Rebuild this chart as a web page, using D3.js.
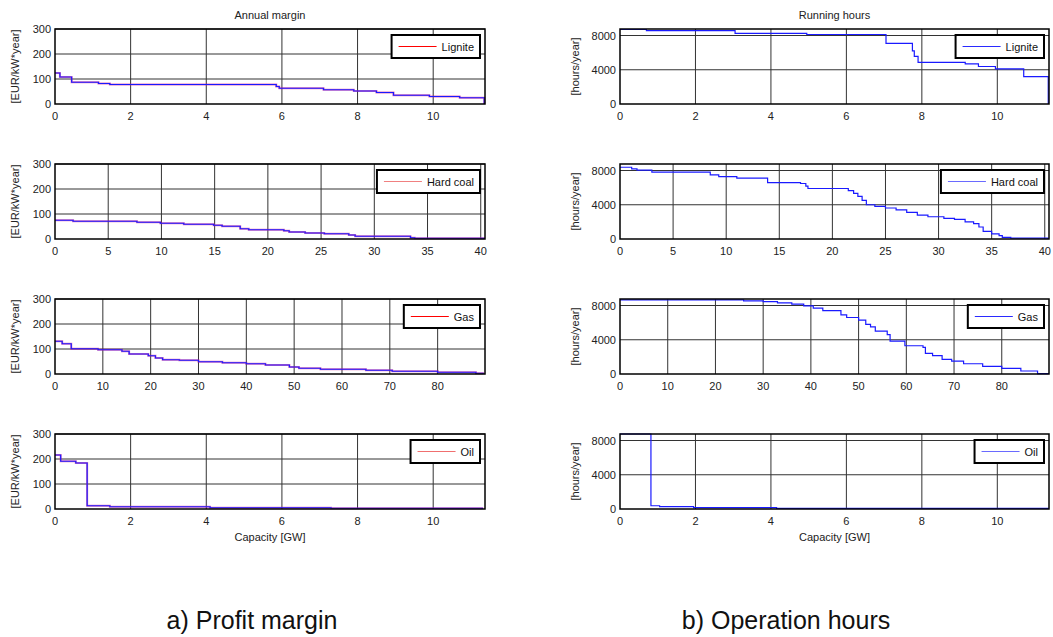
<!DOCTYPE html>
<html>
<head>
<meta charset="utf-8">
<script src="https://cdn.jsdelivr.net/npm/d3@7"></script>
<style>
  body { margin: 0; background: #fff; }
  svg { font-family: "Liberation Sans", Arial, sans-serif; }
</style>
</head>
<body>
<svg id="chart" width="1053" height="637"></svg>
<script>
// step curves: capacity where each step starts, and its value (last point = drop at the end)
const ligniteMarginCap = [0, 0.13, 0.44, 1.15, 1.45, 5.85, 5.93, 7.1, 7.9, 8.5, 8.95, 9.9, 10.7, 11.35]
const ligniteMarginVal = [124, 108, 87, 82, 78, 70, 63, 57, 52, 46, 35, 30, 25, 0]

const hardcoalMarginCap = [0, 1.7, 7.7, 9.9, 12.1, 14.9, 15.7, 17.4, 18.2, 21.5, 22, 23.5, 25.3, 27.6, 28.2, 33.4, 33.8, 40.3]
const hardcoalMarginVal = [75, 71, 67, 63, 59, 55, 51, 41, 37, 33, 28, 24, 21, 16, 11, 5, 3, 0]

const gasMarginCap = [0, 1.5, 3.4, 9, 14, 15.5, 19.5, 21, 22.5, 26, 30, 35, 40, 44, 49, 51, 55.5, 65, 70.5, 80, 88, 89.5]
const gasMarginVal = [131, 121, 101, 97, 91, 80, 73, 64, 57, 55, 49, 45, 41, 36, 28, 23, 19, 15, 11, 7, 3, 0]

const oilMarginCap = [0, 0.15, 0.55, 0.85, 1.45, 4.1, 7.3, 11.3]
const oilMarginVal = [216, 191, 184, 13, 9, 5, 3, 0]

const ligniteHoursCap = [0, 0.7, 3.05, 4.95, 7.05, 7.75, 7.8, 7.9, 9.15, 9.5, 9.95, 10.7, 11.35]
const ligniteHoursVal = [8700, 8580, 8250, 8120, 7090, 6210, 5560, 4870, 4690, 4380, 4110, 3200, 0]

const hardcoalHoursCap = [0, 1.1, 1.6, 3.0, 8.5, 9.3, 11.0, 13.9, 17.0, 17.5, 17.7, 21.5, 22.0, 22.4, 22.8, 23.2, 24.0, 25.0, 26.0, 27.0, 28.0, 29.0, 30.5, 31.5, 32.5, 33.3, 33.8, 34.2, 35.0, 35.7, 36.0, 36.8, 40.3]
const hardcoalHoursVal = [8380, 8190, 8040, 7810, 7500, 7280, 7120, 6590, 6480, 6170, 5900, 5640, 5330, 4990, 4500, 4000, 3810, 3620, 3400, 3100, 2800, 2600, 2420, 2300, 2000, 1800, 1400, 900, 600, 400, 200, 100, 0]

const gasHoursCap = [0, 25.9, 30, 33, 36, 38.5, 40.5, 42.5, 46.3, 47.5, 50, 51.5, 52.5, 53.5, 56, 56.6, 59.7, 63.5, 64, 65.5, 67.5, 69.5, 72, 76, 80, 84, 87.5, 89.8]
const gasHoursVal = [8650, 8550, 8450, 8300, 8150, 7950, 7700, 7400, 6900, 6600, 6300, 5800, 5500, 5000, 4600, 3850, 3300, 3100, 2400, 2150, 1700, 1500, 1200, 900, 650, 350, 50, 0]

const oilHoursCap = [0, 0.82, 1.05, 1.95, 4.15, 11.35]
const oilHoursVal = [8760, 380, 270, 150, 80, 0]

const fuels = ['Lignite', 'Hard coal', 'Gas', 'Oil']
const capMax = [11.37, 40.4, 89.9, 11.37]
const capStep = [2, 5, 10, 2]
const marginTicks = [0, 100, 200, 300]
const hoursTicks = [0, 4000, 8000]

const marginCap = [ligniteMarginCap, hardcoalMarginCap, gasMarginCap, oilMarginCap]
const marginVal = [ligniteMarginVal, hardcoalMarginVal, gasMarginVal, oilMarginVal]
const hoursCap = [ligniteHoursCap, hardcoalHoursCap, gasHoursCap, oilHoursCap]
const hoursVal = [ligniteHoursVal, hardcoalHoursVal, gasHoursVal, oilHoursVal]

const svg = d3.select('#chart')
const rowTop = [29, 164, 299, 434]
const plotH = 75
const cols = [
  { x0: 55, x1: 485, yMax: 300, ticks: marginTicks, label: '[EUR/kW*year]', labelX: 15,
    caps: marginCap, vals: marginVal, title: 'Annual margin', caption: 'a) Profit margin', captionX: 252,
    legendColor: ['#ff0000', '#f08080', '#ff0000', '#f06f6f'] },
  { x0: 620, x1: 1049, yMax: 8760, ticks: hoursTicks, label: '[hours/year]', labelX: 575,
    caps: hoursCap, vals: hoursVal, title: 'Running hours', caption: 'b) Operation hours', captionX: 786,
    legendColor: ['#2a2aff', '#6a6aff', '#2a2aff', '#6a6aff'] }
]

cols.forEach((col, c) => {
  fuels.forEach((fuel, r) => {
    const top = rowTop[r]
    const bottom = top + plotH
    const x = d3.scaleLinear().domain([0, capMax[r]]).range([col.x0, col.x1])
    const y = d3.scaleLinear().domain([0, col.yMax]).range([bottom, top])
    const xticks = d3.range(0, capMax[r] + 1e-9, capStep[r])

    const g = svg.append('g')

    // grid
    g.selectAll('.gx').data(xticks.slice(1)).join('line')
      .attr('x1', d => x(d)).attr('x2', d => x(d))
      .attr('y1', top).attr('y2', bottom)
      .attr('stroke', '#333').attr('stroke-width', 1)
    g.selectAll('.gy').data(col.ticks.slice(1)).join('line')
      .attr('x1', col.x0).attr('x2', col.x1)
      .attr('y1', d => y(d)).attr('y2', d => y(d))
      .attr('stroke', '#333').attr('stroke-width', 1)

    // data
    const pts = col.caps[r].map((cap, i) => [cap, col.vals[r][i]])
    const line = d3.line().x(d => x(d[0])).y(d => y(d[1])).curve(d3.curveStepAfter)
    if (c === 0) {
      g.append('path').attr('d', line(pts)).attr('fill', 'none')
        .attr('stroke', '#d21a8c').attr('stroke-width', 2).attr('opacity', 0.6)
      g.append('path').attr('d', line(pts)).attr('fill', 'none')
        .attr('stroke', '#1a1aff').attr('stroke-width', 1.2)
    } else {
      g.append('path').attr('d', line(pts)).attr('fill', 'none')
        .attr('stroke', '#1a1aff').attr('stroke-width', 1.2)
    }

    // frame
    g.append('rect').attr('x', col.x0).attr('y', top)
      .attr('width', col.x1 - col.x0).attr('height', plotH)
      .attr('fill', 'none').attr('stroke', '#000').attr('stroke-width', 1.5)

    // ticks
    g.selectAll('.tx').data(xticks).join('text')
      .attr('x', d => x(d)).attr('y', bottom + 16)
      .attr('text-anchor', 'middle').attr('font-size', 11).attr('fill', '#222')
      .text(d => d)
    g.selectAll('.ty').data(col.ticks).join('text')
      .attr('x', col.x0 - 4).attr('y', d => y(d) + 4)
      .attr('text-anchor', 'end').attr('font-size', 11).attr('fill', '#222')
      .text(d => d)

    g.append('text')
      .attr('transform', `translate(${col.labelX},${(top + bottom) / 2}) rotate(-90)`)
      .attr('text-anchor', 'middle').attr('dominant-baseline', 'central')
      .attr('font-size', 11).attr('fill', '#222')
      .text(col.label)

    // legend
    const lg = g.append('g')
    const box = lg.append('rect').attr('fill', '#fff').attr('stroke', '#000').attr('stroke-width', 2)
    const txt = lg.append('text').attr('font-size', 11).attr('fill', '#111')
      .attr('dominant-baseline', 'central').text(fuel)
    const w = 7 + 38 + 5 + txt.node().getComputedTextLength() + 6
    const bx = col.x1 - 5 - w
    const by = top + 6
    box.attr('x', bx).attr('y', by).attr('width', w).attr('height', 23)
    lg.append('line').attr('x1', bx + 7).attr('x2', bx + 45)
      .attr('y1', by + 11.5).attr('y2', by + 11.5)
      .attr('stroke', col.legendColor[r]).attr('stroke-width', 1.2)
    txt.attr('x', bx + 50).attr('y', by + 12)
  })

  const mid = (col.x0 + col.x1) / 2
  svg.append('text').attr('x', mid).attr('y', 19)
    .attr('text-anchor', 'middle').attr('font-size', 11).attr('fill', '#222')
    .text(col.title)
  svg.append('text').attr('x', mid).attr('y', 541)
    .attr('text-anchor', 'middle').attr('font-size', 11).attr('fill', '#222')
    .text('Capacity [GW]')
  svg.append('text').attr('x', col.captionX).attr('y', 629)
    .attr('text-anchor', 'middle').attr('font-size', 25).attr('fill', '#111')
    .text(col.caption)
})
</script>
</body>
</html>
